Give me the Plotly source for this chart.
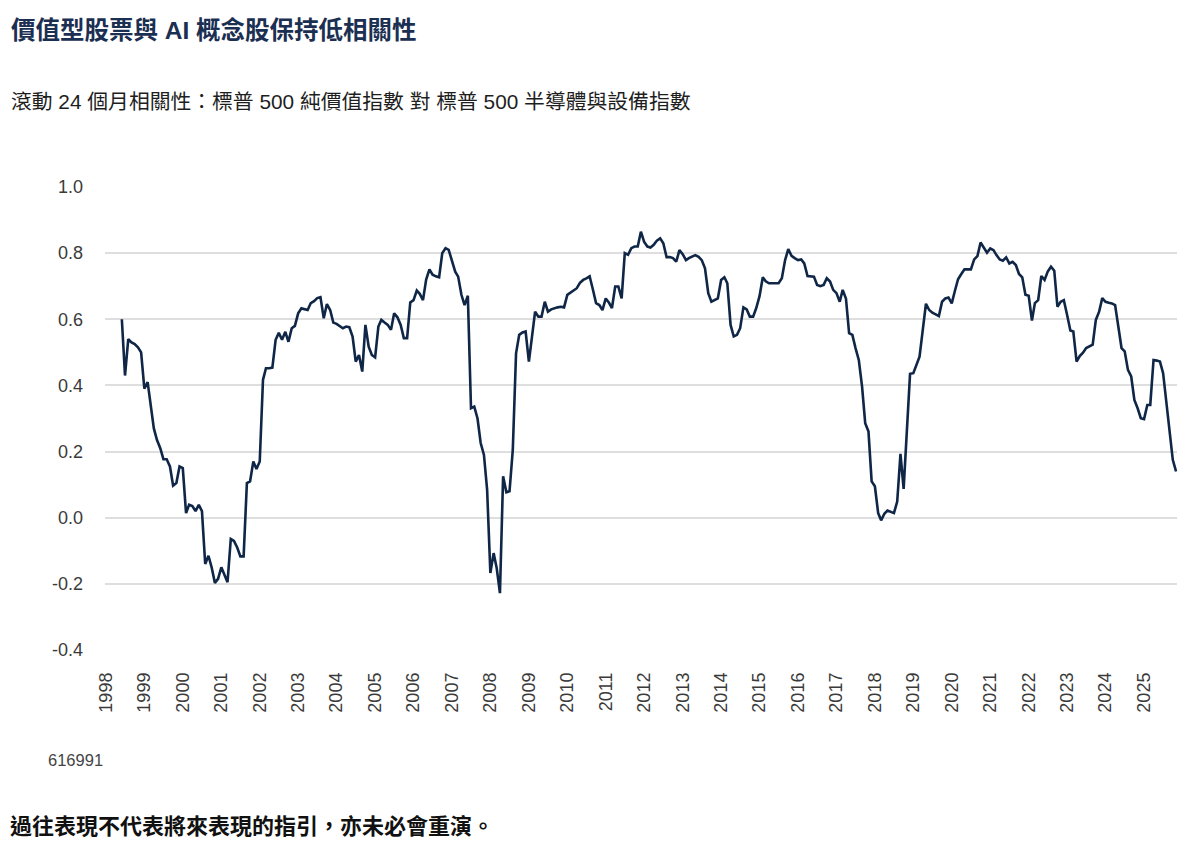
import pandas as pd
import plotly.graph_objects as go

# rolling 24m correlation, monthly, Jun 1998 - Nov 2025
corr_1998_2004 = [
    0.60, 0.43, 0.54, 0.53, 0.525, 0.515, 0.50,
    0.39, 0.41, 0.35, 0.27, 0.235, 0.21, 0.177, 0.177, 0.155, 0.097, 0.105, 0.155,
    0.15, 0.014, 0.039, 0.035, 0.02, 0.039, 0.02, -0.14, -0.115, -0.15, -0.197, -0.185,
    -0.15, -0.172, -0.195, -0.064, -0.07, -0.09, -0.117, -0.117, 0.105, 0.11, 0.17, 0.147,
    0.17, 0.417, 0.452, 0.452, 0.454, 0.538, 0.559, 0.538, 0.562, 0.532, 0.573, 0.58,
    0.618, 0.633, 0.63, 0.628, 0.649, 0.655, 0.664, 0.667, 0.603, 0.646, 0.628, 0.59,
    0.586, 0.58, 0.573, 0.578, 0.576, 0.548, 0.472, 0.492, 0.442, 0.583, 0.517, 0.492,
]
corr_2005_2011 = [
    0.485, 0.578, 0.598, 0.59, 0.583, 0.568, 0.618, 0.606, 0.583, 0.543, 0.543, 0.651,
    0.658, 0.687, 0.677, 0.658, 0.72, 0.751, 0.735, 0.73, 0.727, 0.80, 0.815, 0.81,
    0.779, 0.744, 0.729, 0.674, 0.643, 0.671, 0.331, 0.336, 0.30, 0.226, 0.19, 0.085,
    -0.167, -0.107, -0.152, -0.228, 0.125, 0.077, 0.08, 0.205, 0.497, 0.553, 0.56, 0.563,
    0.472, 0.557, 0.623, 0.608, 0.608, 0.653, 0.623, 0.63, 0.634, 0.636, 0.638, 0.636,
    0.674, 0.681, 0.688, 0.694, 0.71, 0.719, 0.724, 0.73, 0.69, 0.649, 0.643, 0.628,
    0.663, 0.65, 0.634, 0.699, 0.699, 0.663, 0.80, 0.795, 0.815, 0.82, 0.82, 0.865,
]
corr_2012_2018 = [
    0.834, 0.82, 0.817, 0.825, 0.838, 0.845, 0.83, 0.788, 0.788, 0.785, 0.774, 0.809,
    0.797, 0.779, 0.785, 0.789, 0.794, 0.789, 0.779, 0.754, 0.679, 0.653, 0.658, 0.663,
    0.719, 0.727, 0.709, 0.583, 0.548, 0.553, 0.573, 0.636, 0.63, 0.608, 0.608, 0.634,
    0.67, 0.727, 0.715, 0.709, 0.709, 0.709, 0.709, 0.724, 0.779, 0.812, 0.792, 0.785,
    0.779, 0.781, 0.769, 0.731, 0.73, 0.729, 0.704, 0.70, 0.704, 0.724, 0.714, 0.689,
    0.679, 0.653, 0.689, 0.663, 0.558, 0.553, 0.513, 0.477, 0.397, 0.286, 0.261, 0.11,
    0.095, 0.014, -0.008, 0.012, 0.022, 0.019, 0.014, 0.049, 0.193, 0.087, 0.28, 0.435,
]
corr_2019_2025 = [
    0.437, 0.462, 0.487, 0.568, 0.647, 0.628, 0.62, 0.615, 0.61, 0.653, 0.663, 0.666,
    0.648, 0.687, 0.721, 0.737, 0.751, 0.751, 0.751, 0.781, 0.791, 0.832, 0.817, 0.801,
    0.814, 0.809, 0.794, 0.781, 0.777, 0.787, 0.769, 0.774, 0.764, 0.737, 0.727, 0.674,
    0.671, 0.596, 0.649, 0.658, 0.731, 0.719, 0.744, 0.759, 0.747, 0.638, 0.653, 0.658,
    0.613, 0.566, 0.563, 0.472, 0.489, 0.499, 0.513, 0.518, 0.523, 0.598, 0.623, 0.664,
    0.653, 0.65, 0.648, 0.643, 0.583, 0.513, 0.503, 0.447, 0.427, 0.356, 0.331, 0.301,
    0.298, 0.341, 0.341, 0.477, 0.475, 0.472, 0.437, 0.346, 0.256, 0.175, 0.14,
]

years = [str(y) for y in range(1998, 2026)]
y_ticks = [1.0, 0.8, 0.6, 0.4, 0.2, 0.0, -0.2, -0.4]
y_labels = ["1.0", "0.8", "0.6", "0.4", "0.2", "0.0", "-0.2", "-0.4"]

title = "價值型股票與 AI 概念股保持低相關性"
subtitle = "滾動 24 個月相關性：標普 500 純價值指數 對 標普 500 半導體與設備指數"
code = "616991"
footer = "過往表現不代表將來表現的指引，亦未必會重演。"

corr = corr_1998_2004 + corr_2005_2011 + corr_2012_2018 + corr_2019_2025
dates = pd.date_range("1998-06-01", periods=len(corr), freq="MS")

FONT = "Liberation Sans, Noto Sans CJK TC, sans-serif"
NAVY = "#0f2647"

fig = go.Figure()
fig.add_trace(go.Scatter(x=dates, y=corr, mode="lines",
                         line=dict(color=NAVY, width=2.6), showlegend=False))

fig.update_layout(
    width=1200, height=848,
    margin=dict(l=105, r=23, t=187, b=198),
    paper_bgcolor="white", plot_bgcolor="white",
    font=dict(family=FONT, color="#3a3a3a", size=18),
)
fig.update_xaxes(
    type="date", range=["1997-12-23", "2025-11-10"],
    tickvals=[y + "-01-01" for y in years], ticktext=years,
    tickangle=-90, showgrid=False, zeroline=False, showline=False,
    ticklabelstandoff=18,
    tickfont=dict(size=18, color="#3a3a3a"),
)
fig.update_yaxes(
    range=[-0.4, 1.0], tickvals=y_ticks, ticktext=y_labels,
    showgrid=True, gridcolor="#dedede", gridwidth=1.8,
    zeroline=False, showline=False, ticklabelstandoff=21,
    tickfont=dict(size=18, color="#3a3a3a"),
)

# texts placed in paper coords (plot area is x 105-1177, y 187-650 px)
def px(x):
    return (x - 105) / 1072

def py(y):
    return (650 - y) / 463

fig.add_annotation(text="<b>" + title + "</b>", xref="paper", yref="paper",
                   x=px(9), y=py(30), xanchor="left", yanchor="middle",
                   showarrow=False, font=dict(size=24.5, color="#1b2f52", family=FONT))
fig.add_annotation(text=subtitle, xref="paper", yref="paper",
                   x=px(9), y=py(101), xanchor="left", yanchor="middle",
                   showarrow=False, font=dict(size=20.8, color="#1e1e1e", family=FONT))
fig.add_annotation(text=code, xref="paper", yref="paper",
                   x=px(46), y=py(760), xanchor="left", yanchor="middle",
                   showarrow=False, font=dict(size=16.5, color="#444444", family=FONT))
fig.add_annotation(text="<b>" + footer + "</b>", xref="paper", yref="paper",
                   x=px(8), y=py(826), xanchor="left", yanchor="middle",
                   showarrow=False, font=dict(size=22, color="#111111", family=FONT))

fig.write_html("out.html", config={"displayModeBar": False},
               post_script="document.body.style.margin='0';")
